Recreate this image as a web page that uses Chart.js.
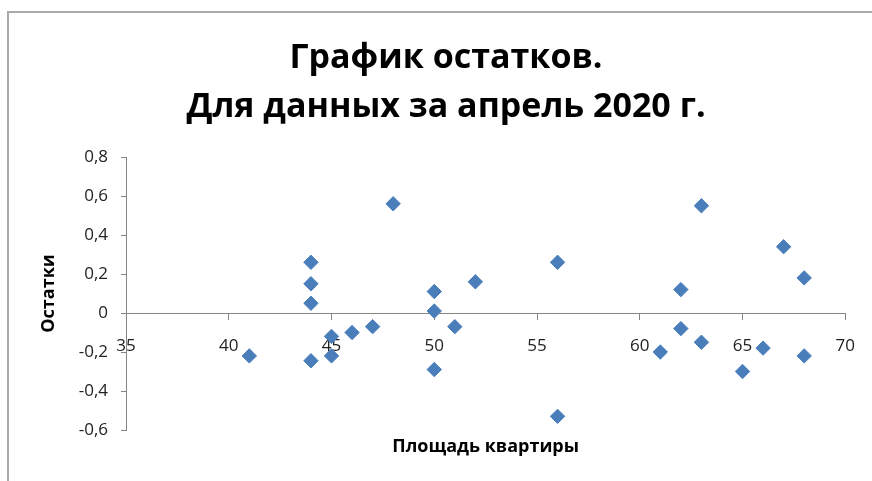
<!DOCTYPE html>
<html>
<head>
<meta charset="utf-8">
<script src="https://cdn.jsdelivr.net/npm/chart.js@4/dist/chart.umd.min.js"></script>
<style>
  html, body { margin: 0; padding: 0; background: #fff; }
  #wrap { position: relative; width: 872px; height: 481px; overflow: hidden; }
  #frame {
    position: absolute; left: 7px; top: 11px; width: 900px; height: 500px;
    border-left: 2px solid #a9a9a9; border-top: 2px solid #a9a9a9;
  }
  #residuals { position: absolute; left: 0; top: 0; }
</style>
</head>
<body>
<div id="wrap">
  <div id="frame"></div>
  <canvas id="residuals" width="872" height="481"></canvas>
</div>
<script>
  // площадь квартиры (x) и остатки (y)
  const areaValues = [41, 44, 44, 44, 44, 45, 45, 46, 47, 48, 50, 50, 50, 51, 52,
    56, 56, 61, 62, 62, 63, 63, 65, 66, 67, 68, 68];
  const residualValues = [-0.22, 0.26, 0.15, 0.05, -0.245, -0.12, -0.22, -0.10, -0.07, 0.56, 0.11, 0.01, -0.29, -0.07, 0.16,
    0.26, -0.53, -0.20, 0.12, -0.08, 0.55, -0.15, -0.30, -0.18, 0.34, 0.18, -0.22];

  const xTickValues = [35, 40, 45, 50, 55, 60, 65, 70];
  const yTickValues = [-0.6, -0.4, -0.2, 0, 0.2, 0.4, 0.6, 0.8];

  const titleLines = ['График остатков.', 'Для данных за апрель 2020 г.'];
  const xTitle = 'Площадь квартиры';
  const yTitle = 'Остатки';

  const axisColor = '#868686';
  const markerColor = '#4a7ebb';

  const points = areaValues.map((x, i) => ({ x: x, y: residualValues[i] }));

  const fmt = v => Number(v.toFixed(1)).toString().replace('.', ',');

  const ctx = document.getElementById('residuals').getContext('2d');
  new Chart(ctx, {
    type: 'scatter',
    data: {
      datasets: [{
        label: yTitle,
        data: points,
        pointStyle: 'rectRot',
        pointRadius: 7.2,
        pointHoverRadius: 7.2,
        backgroundColor: markerColor,
        borderColor: markerColor,
        borderWidth: 1,
      }]
    },
    options: {
      responsive: false,
      animation: false,
      layout: { padding: { left: 46, right: 26, top: 0, bottom: 0 } },
      plugins: {
        legend: { display: false },
        tooltip: { enabled: false },
        title: {
          display: true,
          text: titleLines,
          color: '#000',
          font: { family: 'Open Sans', size: 34, weight: 'bold', lineHeight: 49 / 34 },
          padding: { top: 34, bottom: 25 },
        },
        subtitle: {
          display: true,
          position: 'bottom',
          fullSize: false,
          text: xTitle,
          color: '#000',
          font: { family: 'Open Sans', size: 18, weight: 'bold', lineHeight: 1.2 },
          padding: { top: 6.2, bottom: 23.2 },
        },
      },
      scales: {
        x: {
          type: 'linear',
          position: { y: 0 },
          min: xTickValues[0],
          max: xTickValues[xTickValues.length - 1],
          ticks: {
            stepSize: xTickValues[1] - xTickValues[0],
            color: '#222',
            font: { family: 'Open Sans', size: 17 },
            padding: 17,
            maxRotation: 0,
          },
          grid: { drawOnChartArea: false, drawTicks: true, tickLength: 6, color: axisColor },
          border: { display: true, color: axisColor, width: 1 },
        },
        y: {
          type: 'linear',
          position: 'left',
          min: yTickValues[0],
          max: yTickValues[yTickValues.length - 1],
          ticks: {
            stepSize: 0.2,
            color: '#222',
            font: { family: 'Open Sans', size: 17 },
            padding: 13,
            callback: v => fmt(v),
          },
          grid: { drawOnChartArea: false, drawTicks: true, tickLength: 5, color: axisColor },
          border: { display: true, color: axisColor, width: 1 },
          title: {
            display: true,
            text: yTitle,
            color: '#000',
            font: { family: 'Open Sans', size: 18, weight: 'bold', lineHeight: 1.2 },
            padding: { top: -8, bottom: 0 },
          },
          afterFit: scale => { scale.width = 80; },
        },
      },
    },
  });
</script>
</body>
</html>
